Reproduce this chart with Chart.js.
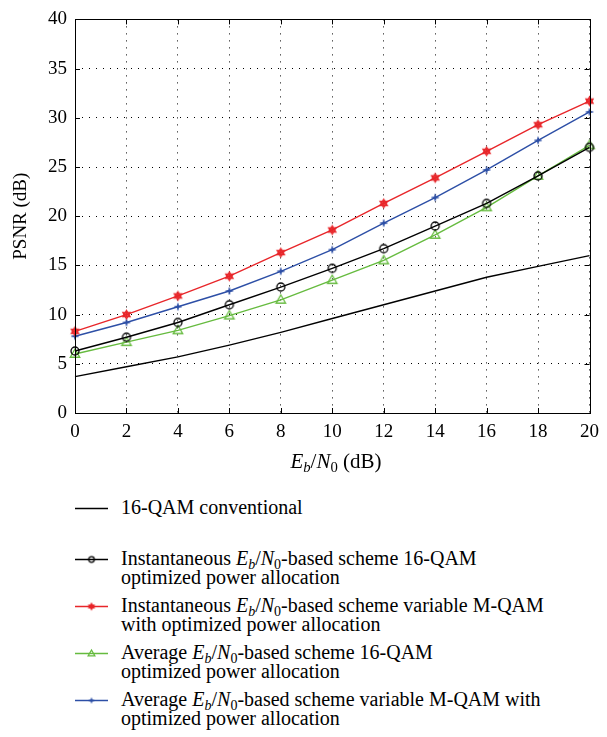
<!DOCTYPE html>
<html>
<head>
<meta charset="utf-8">
<script src="https://cdn.jsdelivr.net/npm/chart.js@4"></script>
<style>
  body { margin: 0; background: #fff; }
  #wrap { position: relative; width: 607px; height: 737px; font-family: 'Liberation Serif', 'DejaVu Serif', serif; color: #000; }
  #chart { position: absolute; left: 0; top: 0; }
  .xtitle { position: absolute; left: 75px; width: 522px; top: 449px; text-align: center; font-size: 21px; line-height: 24px; }
  .xtitle sub, .leg sub { font-size: 0.7em; vertical-align: -0.3em; line-height: 0; }
  .leg { position: absolute; left: 121px; font-size: 20px; line-height: 19px; white-space: nowrap; }
  .sample { position: absolute; left: 72px; }
</style>
</head>
<body>
<div id="wrap">
  <canvas id="chart" width="607" height="475"></canvas>
  <div class="xtitle"><i>E</i><sub><i>b</i></sub>/<i>N</i><sub>0</sub> (dB)</div>
  <div id="legend"></div>
</div>
<script>
// ===== DATA =====
const ebN0 = [0, 2, 4, 6, 8, 10, 12, 14, 16, 18, 20];
const conventional = [3.7, 4.7, 5.7, 6.9, 8.2, 9.6, 11.0, 12.4, 13.8, 14.9, 16.0];
const inst16 = [6.3, 7.7, 9.2, 11.0, 12.8, 14.7, 16.7, 19.0, 21.3, 24.1, 27.0];
const instM = [8.3, 10.0, 11.9, 13.9, 16.3, 18.6, 21.3, 23.9, 26.6, 29.3, 31.7];
const avg16 = [6.0, 7.2, 8.4, 9.9, 11.5, 13.5, 15.5, 18.1, 20.9, 24.1, 27.2];
const avgM = [7.8, 9.2, 10.8, 12.4, 14.4, 16.6, 19.3, 21.9, 24.7, 27.7, 30.6];
const yTicks = [0, 5, 10, 15, 20, 25, 30, 35, 40];
const xTicks = [0, 2, 4, 6, 8, 10, 12, 14, 16, 18, 20];

const RED = '#e8262a', BLUE = '#2d4fa6', GREEN = '#66bb3f', BLACK = '#000';

// marker images (used by chart points and by the legend)
function marker(kind, color, r) {
  const s = Math.ceil(r * 2 + 4);
  const c = document.createElement('canvas');
  c.width = s; c.height = s;
  const g = c.getContext('2d');
  const m = s / 2;
  g.strokeStyle = color; g.fillStyle = color; g.lineWidth = 1.3;
  if (kind === 'circle') {
    g.beginPath(); g.arc(m, m, r, 0, Math.PI * 2); g.stroke();
  } else if (kind === 'triangle') {
    g.beginPath();
    g.moveTo(m, m - r); g.lineTo(m + r * 0.95, m + r * 0.65); g.lineTo(m - r * 0.95, m + r * 0.65);
    g.closePath(); g.stroke();
  } else if (kind === 'hexagram') {
    for (const off of [-Math.PI / 2, Math.PI / 2]) {
      g.beginPath();
      for (let k = 0; k < 3; k++) {
        const a = off + k * 2 * Math.PI / 3;
        const px = m + r * Math.cos(a), py = m + r * Math.sin(a);
        k ? g.lineTo(px, py) : g.moveTo(px, py);
      }
      g.closePath(); g.stroke();
    }
    g.beginPath(); g.arc(m, m, r * 0.4, 0, Math.PI * 2); g.fill();
  } else if (kind === 'plus') {
    g.lineWidth = 1.4;
    g.beginPath(); g.moveTo(m - r, m); g.lineTo(m + r, m); g.moveTo(m, m - r); g.lineTo(m, m + r); g.stroke();
    g.beginPath(); g.moveTo(m, m - r * 0.6); g.lineTo(m + r * 0.6, m); g.lineTo(m, m + r * 0.6); g.lineTo(m - r * 0.6, m); g.closePath(); g.fill();
  }
  return c;
}

const series = [
  { label: '16-QAM conventional', data: conventional, color: BLACK, kind: null },
  { label: 'Instantaneous Eb/N0-based scheme 16-QAM optimized power allocation', data: inst16, color: BLACK, kind: 'circle', r: 4 },
  { label: 'Instantaneous Eb/N0-based scheme variable M-QAM with optimized power allocation', data: instM, color: RED, kind: 'hexagram', r: 4.2 },
  { label: 'Average Eb/N0-based scheme 16-QAM optimized power allocation', data: avg16, color: GREEN, kind: 'triangle', r: 5 },
  { label: 'Average Eb/N0-based scheme variable M-QAM with optimized power allocation', data: avgM, color: BLUE, kind: 'plus', r: 3.6 }
];

const serif = "'Liberation Serif', 'DejaVu Serif', serif";

const frame = {
  id: 'frame',
  afterDraw(chart) {
    const { ctx, chartArea: a, scales: { x, y } } = chart;
    ctx.save();
    ctx.strokeStyle = '#000';
    ctx.lineWidth = 1;
    ctx.strokeRect(Math.round(a.left) + 0.5, Math.round(a.top) + 0.5, Math.round(a.right - a.left), Math.round(a.bottom - a.top));
    ctx.beginPath();
    xTicks.forEach(v => {
      const p = Math.round(x.getPixelForValue(v)) + 0.5;
      ctx.moveTo(p, a.bottom); ctx.lineTo(p, a.bottom - 5);
      ctx.moveTo(p, a.top); ctx.lineTo(p, a.top + 5);
    });
    yTicks.forEach(v => {
      const p = Math.round(y.getPixelForValue(v)) + 0.5;
      ctx.moveTo(a.left, p); ctx.lineTo(a.left + 5, p);
      ctx.moveTo(a.right, p); ctx.lineTo(a.right - 5, p);
    });
    ctx.stroke();
    ctx.restore();
  }
};

new Chart(document.getElementById('chart'), {
  type: 'line',
  data: {
    datasets: series.map(s => ({
      label: s.label,
      data: ebN0.map((v, i) => ({ x: v, y: s.data[i] })),
      borderColor: s.color,
      backgroundColor: s.color,
      borderWidth: 1.4,
      tension: 0,
      clip: false,
      pointStyle: s.kind ? marker(s.kind, s.color, s.r) : false,
      pointRadius: s.kind ? 5 : 0
    }))
  },
  plugins: [frame],
  options: {
    responsive: false,
    animation: false,
    events: [],
    layout: { padding: { top: 13, right: 10, left: 0, bottom: 0 } },
    plugins: { legend: { display: false }, tooltip: { enabled: false } },
    scales: {
      x: {
        type: 'linear', min: 0, max: 20,
        afterBuildTicks: sc => { sc.ticks = xTicks.map(v => ({ value: v })); },
        afterFit: sc => { sc.height = 62; },
        grid: { color: '#000', lineWidth: 1, drawTicks: false },
        border: { display: false, dash: [1, 6] },
        ticks: { color: '#000', padding: 8, font: { family: serif, size: 19 } }
      },
      y: {
        min: 0, max: 40,
        afterBuildTicks: sc => { sc.ticks = yTicks.map(v => ({ value: v })); },
        afterFit: sc => { sc.width = 75; },
        grid: { color: '#000', lineWidth: 1, drawTicks: false },
        border: { display: false, dash: [1, 6] },
        ticks: { color: '#000', padding: 8, font: { family: serif, size: 19 } },
        title: { display: true, text: 'PSNR (dB)', color: '#000', padding: { top: 10, bottom: 0 }, font: { family: serif, size: 19 } }
      }
    }
  }
});

// ===== LEGEND =====
const eb = '<i>E</i><sub><i>b</i></sub>/<i>N</i><sub>0</sub>';
const legendRows = [
  { top: 498, lines: ['16-QAM conventional'] },
  { top: 549, lines: ['Instantaneous ' + eb + '-based scheme 16-QAM', 'optimized power allocation'] },
  { top: 596, lines: ['Instantaneous ' + eb + '-based scheme variable M-QAM', 'with optimized power allocation'] },
  { top: 643, lines: ['Average ' + eb + '-based scheme 16-QAM', 'optimized power allocation'] },
  { top: 690, lines: ['Average ' + eb + '-based scheme variable M-QAM with', 'optimized power allocation'] }
];
const legend = document.getElementById('legend');
legendRows.forEach((row, i) => {
  const s = series[i];
  const txt = document.createElement('div');
  txt.className = 'leg';
  txt.style.top = row.top + 'px';
  txt.innerHTML = row.lines.join('<br>');
  legend.appendChild(txt);
  const c = document.createElement('canvas');
  c.className = 'sample';
  c.width = 40; c.height = 14;
  c.style.top = (row.top + 9.5 - 7) + 'px';
  const g = c.getContext('2d');
  g.strokeStyle = s.color; g.lineWidth = 1.3;
  g.beginPath(); g.moveTo(3, 7.5); g.lineTo(36, 7.5); g.stroke();
  if (s.kind) {
    const m = marker(s.kind, s.color, s.r * 0.7);
    g.drawImage(m, 19.5 - m.width / 2, 7.5 - m.height / 2);
  }
  legend.appendChild(c);
});
</script>
</body>
</html>
